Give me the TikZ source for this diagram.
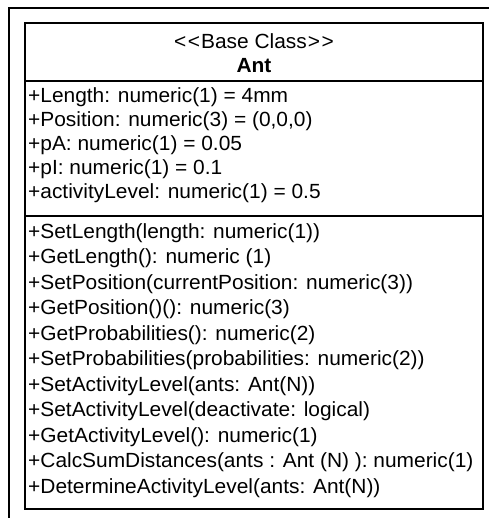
\documentclass[tikz,border=0pt]{standalone}
\usepackage{fontspec}
\setmainfont[FakeStretch=1.02]{Liberation Sans}
\begin{document}
\begin{tikzpicture}[x=1pt,y=-1pt,
  frame/.style={draw=black,line width=1.2pt},
  box/.style={draw=black,line width=1.4pt},
  txt/.style={anchor=west,inner sep=0pt,font=\fontsize{20.5}{22}\selectfont},
  ttl/.style={inner sep=0pt,font=\fontsize{20.5}{22}\selectfont}]
\useasboundingbox (0,0) rectangle (489,518);
\draw[frame] (9,518) -- (9,8) -- (489,8);
\draw[box] (25,23) rectangle (483,509);
\draw[box] (25,81) -- (483,81);
\draw[box] (25,216) -- (483,216);
\node[ttl] (stereo) at (254,41) {\textless\kern1.5pt\textless\kern1pt Base Class\kern1pt\textgreater\kern1.5pt\textgreater};
\node[ttl,font=\fontsize{20.5}{22}\selectfont\bfseries] (name) at (254,66) {Ant};
\node[txt] (a1) at (28,97) {+Length: numeric(1) = 4mm};
\node[txt] (a2) at (28,121) {+Position: numeric(3) = (0,0,0)};
\node[txt] (a3) at (28,145) {+pA: numeric(1) = 0.05};
\node[txt] (a4) at (28,169) {+pI: numeric(1) = 0.1};
\node[txt] (a5) at (28,193) {+activityLevel: numeric(1) = 0.5};
\node[txt] (m1) at (28,233) {+SetLength(length: numeric(1))};
\node[txt] (m2) at (28,258.5) {+GetLength(): numeric (1)};
\node[txt] (m3) at (28,284) {+SetPosition(currentPosition: numeric(3))};
\node[txt] (m4) at (28,309.5) {+GetPosition()(): numeric(3)};
\node[txt] (m5) at (28,335) {+GetProbabilities(): numeric(2)};
\node[txt] (m6) at (28,360.5) {+SetProbabilities(probabilities: numeric(2))};
\node[txt] (m7) at (28,386) {+SetActivityLevel(ants: Ant(N))};
\node[txt] (m8) at (28,411.5) {+SetActivityLevel(deactivate: logical)};
\node[txt] (m9) at (28,437) {+GetActivityLevel(): numeric(1)};
\node[txt] (m10) at (28,462.5) {+CalcSumDistances(ants : Ant (N) ): numeric(1)};
\node[txt] (m11) at (28,488) {+DetermineActivityLevel(ants: Ant(N))};
\end{tikzpicture}
\end{document}
